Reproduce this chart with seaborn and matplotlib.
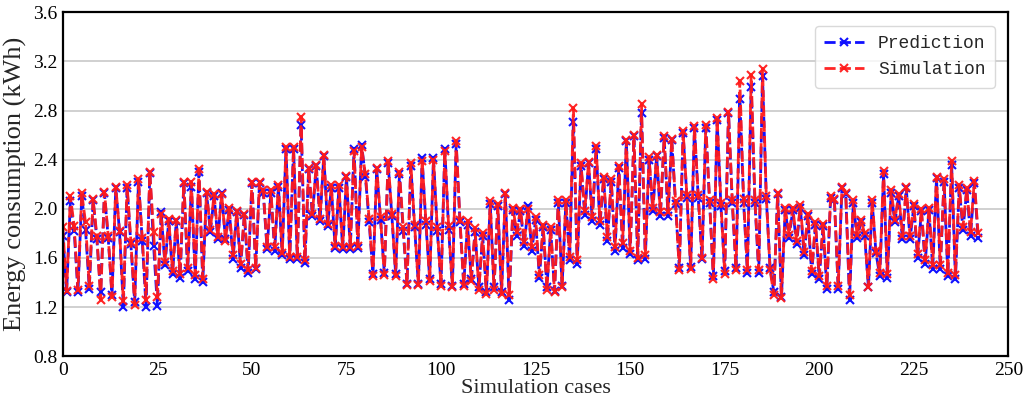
import numpy as np
import pandas as pd
import matplotlib
matplotlib.use("Agg")
import matplotlib.pyplot as plt
import seaborn as sns

prediction = [
    1.78, 1.32, 2.06, 1.82, 1.32, 2.10, 1.83, 1.35, 2.07, 1.75,
    1.32, 2.13, 1.76, 1.30, 2.17, 1.81, 1.20, 2.17, 1.71, 1.24,
    2.22, 1.74, 1.20, 2.29, 1.70, 1.21, 1.97, 1.54, 1.90, 1.47,
    1.90, 1.44, 2.21, 1.49, 2.18, 1.43, 2.30, 1.40, 2.13, 1.81,
    2.10, 1.75, 2.13, 1.75, 1.99, 1.59, 1.97, 1.52, 1.95, 1.48,
    2.21, 1.51, 2.21, 2.13, 1.67, 2.13, 1.66, 2.18, 1.62, 2.49,
    1.59, 2.49, 1.59, 2.68, 1.56, 2.32, 1.94, 2.35, 1.90, 2.43,
    1.86, 2.17, 1.68, 2.17, 1.67, 2.26, 1.67, 2.49, 1.68, 2.52,
    2.26, 1.89, 1.47, 2.32, 1.91, 1.48, 2.37, 1.94, 1.47, 2.28,
    1.82, 1.39, 2.35, 1.85, 1.39, 2.41, 1.87, 1.43, 2.41, 1.82,
    1.39, 2.49, 1.83, 1.37, 2.53, 1.89, 1.39, 1.87, 1.43, 1.81,
    1.36, 1.78, 1.32, 2.04, 1.36, 2.02, 1.32, 2.12, 1.26, 1.99,
    1.78, 1.98, 1.70, 2.02, 1.66, 1.91, 1.44, 1.85, 1.36, 1.83,
    1.33, 2.05, 1.37, 2.05, 1.58, 2.71, 1.55, 2.35, 1.95, 2.37,
    1.90, 2.49, 1.87, 2.24, 1.74, 2.22, 1.66, 2.33, 1.68, 2.55,
    1.63, 2.59, 1.58, 2.78, 1.59, 2.40, 1.98, 2.43, 1.94, 2.58,
    1.94, 2.56, 2.04, 1.52, 2.62, 2.09, 1.53, 2.66, 2.09, 1.59,
    2.66, 2.05, 1.45, 2.72, 2.02, 1.49, 2.78, 2.05, 1.52, 2.89,
    2.05, 1.48, 2.99, 2.05, 1.48, 3.08, 2.08, 1.52, 1.32, 2.12,
    1.28, 1.99, 1.76, 1.99, 1.71, 2.01, 1.62, 1.94, 1.47, 1.87,
    1.43, 1.86, 1.35, 2.09, 2.07, 1.35, 2.17, 2.12, 1.26, 2.05,
    1.76, 1.89, 1.78, 1.36, 2.05, 1.64, 1.45, 2.28, 1.44, 2.13,
    1.89, 2.10, 1.75, 2.17, 1.75, 2.02, 1.60, 1.98, 1.55, 1.99,
    1.51, 2.25, 1.51, 2.22, 1.45, 2.36, 1.43, 2.17, 1.83, 2.15,
    1.78, 2.21, 1.76,
]

simulation = [
    1.85, 1.33, 2.10, 1.86, 1.34, 2.13, 1.89, 1.37, 2.08, 1.78,
    1.26, 2.14, 1.78, 1.28, 2.18, 1.82, 1.25, 2.19, 1.73, 1.22,
    2.24, 1.76, 1.26, 2.30, 1.81, 1.28, 1.96, 1.57, 1.92, 1.49,
    1.91, 1.47, 2.22, 1.52, 2.22, 1.46, 2.32, 1.43, 2.14, 1.83,
    2.12, 1.77, 2.12, 1.74, 2.01, 1.62, 1.98, 1.55, 1.96, 1.50,
    2.22, 1.52, 2.22, 2.15, 1.69, 2.15, 1.69, 2.19, 1.64, 2.50,
    1.61, 2.50, 1.61, 2.75, 1.58, 2.33, 1.96, 2.36, 1.92, 2.44,
    1.88, 2.19, 1.70, 2.19, 1.69, 2.27, 1.69, 2.47, 1.70, 2.50,
    2.28, 1.92, 1.45, 2.33, 1.93, 1.46, 2.39, 1.96, 1.45, 2.30,
    1.85, 1.38, 2.37, 1.87, 1.38, 2.39, 1.90, 1.41, 2.40, 1.85,
    1.37, 2.47, 1.86, 1.36, 2.55, 1.91, 1.37, 1.90, 1.41, 1.84,
    1.34, 1.80, 1.31, 2.06, 1.34, 2.04, 1.31, 2.13, 1.30, 2.01,
    1.81, 2.00, 1.73, 2.00, 1.69, 1.93, 1.46, 1.87, 1.34, 1.85,
    1.32, 2.07, 1.36, 2.07, 1.61, 2.82, 1.58, 2.37, 1.98, 2.38,
    1.93, 2.51, 1.90, 2.26, 1.77, 2.24, 1.69, 2.35, 1.72, 2.56,
    1.66, 2.60, 1.60, 2.85, 1.62, 2.42, 2.01, 2.44, 1.97, 2.59,
    1.97, 2.57, 2.06, 1.50, 2.63, 2.11, 1.51, 2.67, 2.11, 1.60,
    2.68, 2.07, 1.43, 2.74, 2.05, 1.47, 2.79, 2.07, 1.50, 3.04,
    2.08, 1.50, 3.09, 2.07, 1.50, 3.14, 2.10, 1.50, 1.30, 2.13,
    1.27, 2.01, 1.79, 2.01, 1.74, 2.03, 1.65, 1.96, 1.49, 1.89,
    1.45, 1.88, 1.37, 2.10, 2.08, 1.37, 2.18, 2.13, 1.30, 2.07,
    1.79, 1.91, 1.80, 1.36, 2.07, 1.66, 1.48, 2.31, 1.47, 2.15,
    1.91, 2.12, 1.78, 2.18, 1.78, 2.04, 1.63, 2.00, 1.58, 2.01,
    1.54, 2.26, 1.54, 2.24, 1.48, 2.39, 1.46, 2.19, 1.85, 2.17,
    1.81, 2.23, 1.80,
]

cases = list(range(len(prediction)))

xticks = [0, 25, 50, 75, 100, 125, 150, 175, 200, 225, 250]
yticks = [0.8, 1.2, 1.6, 2.0, 2.4, 2.8, 3.2, 3.6]

sns.set_style("white")
plt.rcParams["font.family"] = ["Liberation Serif", "DejaVu Serif"]

fig = plt.figure(figsize=(10.3, 4.08), dpi=100)
ax = fig.add_axes([0.061, 0.127, 0.918, 0.843])

df = pd.DataFrame({"case": cases, "Prediction": prediction, "Simulation": simulation})

sns.lineplot(data=df, x="case", y="Prediction", ax=ax, color="#1010ff",
             linestyle=(0, (4, 1.5)), linewidth=2.0, marker="x", markersize=6,
             markeredgewidth=1.5, markeredgecolor="#1010ff", label="Prediction")
sns.lineplot(data=df, x="case", y="Simulation", ax=ax, color="#ff1a1a",
             linestyle=(0, (4, 1.5)), linewidth=2.0, marker="x", markersize=6,
             markeredgewidth=1.5, markeredgecolor="#ff1a1a", label="Simulation",
             alpha=0.95)

ax.set_xlim(0, 250)
ax.set_ylim(0.8, 3.6)
ax.set_xticks(xticks)
ax.set_yticks(yticks)
ax.set_yticklabels([f"{v:.1f}" for v in yticks])
ax.yaxis.grid(True, color="#c8c8c8", linewidth=1.2)
ax.xaxis.grid(False)
ax.set_axisbelow(True)

for s in ax.spines.values():
    s.set_color("black")
    s.set_linewidth(1.6)

ax.tick_params(axis="both", direction="in", length=4, width=1.2,
               labelsize=14, colors="black", pad=4)
ax.set_xlabel("Simulation cases", fontsize=16, labelpad=0)
ax.set_ylabel("Energy consumption (kWh)", fontsize=19, labelpad=4)

leg = ax.legend(loc="upper right", frameon=True, fancybox=True,
                prop={"family": "Liberation Mono", "size": 13},
                handlelength=2.2, borderpad=0.5, labelspacing=0.5,
                bbox_to_anchor=(0.995, 0.985))
leg.get_frame().set_edgecolor("#d0d0d0")

fig.savefig("out.png", dpi=100)
